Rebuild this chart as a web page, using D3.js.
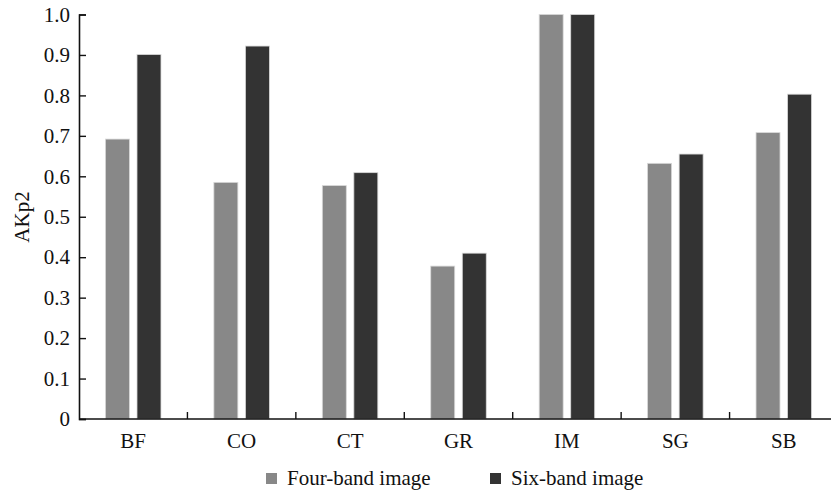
<!DOCTYPE html>
<html>
<head>
<meta charset="utf-8">
<script src="https://cdn.jsdelivr.net/npm/d3@7"></script>
<style>
  body { margin: 0; background: #fff; }
  svg text { font-family: "Liberation Serif", "Times New Roman", serif; fill: #111; }
</style>
</head>
<body>
<div id="chart"></div>
<script>
// data
var categories = ['BF', 'CO', 'CT', 'GR', 'IM', 'SG', 'SB'];
var seriesNames = ['Four-band image', 'Six-band image'];
var fourBand = [0.692, 0.585, 0.577, 0.378, 1.0, 0.632, 0.708];
var sixBand  = [0.901, 0.922, 0.609, 0.410, 1.0, 0.655, 0.803];
var yTicks = [0, 0.1, 0.2, 0.3, 0.4, 0.5, 0.6, 0.7, 0.8, 0.9, 1.0];
var colors = ['#888888', '#333333'];

var width = 831, height = 491;
var mLeft = 79, mRight = 838, mTop = 14.5, mBottom = 419;
var fs = 21;

var svg = d3.select('#chart').append('svg')
  .attr('width', width)
  .attr('height', height);

var x0 = d3.scaleBand().domain(categories).range([mLeft, mRight])
  .paddingInner(0.488).paddingOuter(0.244);
var x1 = d3.scaleBand().domain(seriesNames).range([0, x0.bandwidth()])
  .paddingInner(0.24);
var y = d3.scaleLinear().domain([0, 1]).range([mBottom, mTop]);

var rows = categories.map(function (c, i) {
  return { cat: c, vals: [fourBand[i], sixBand[i]] };
});

// bars
var groups = svg.selectAll('.grp')
  .data(rows).enter()
  .append('g')
  .attr('class', 'grp')
  .attr('transform', function (d) { return 'translate(' + x0(d.cat) + ',0)'; });

groups.selectAll('rect')
  .data(function (d) { return d.vals.map(function (v, j) { return { s: seriesNames[j], v: v, j: j }; }); })
  .enter().append('rect')
  .attr('x', function (d) { return x1(d.s); })
  .attr('y', function (d) { return y(d.v); })
  .attr('width', x1.bandwidth())
  .attr('height', function (d) { return mBottom - y(d.v); })
  .attr('fill', function (d) { return colors[d.j]; })
  .attr('stroke', '#d8d8d8')
  .attr('stroke-width', 0.8);

// y axis
var yAxis = d3.axisLeft(y).tickValues(yTicks)
  .tickSize(-7).tickPadding(9)
  .tickFormat(function (d) { return d === 0 ? '0' : d3.format('.1f')(d); });
var gy = svg.append('g').attr('transform', 'translate(' + mLeft + ',0)').call(yAxis);
gy.select('.domain').attr('stroke', '#111').attr('stroke-width', 1.6);
gy.selectAll('.tick line').attr('stroke', '#111').attr('stroke-width', 1.4);
gy.selectAll('.tick text').attr('font-size', fs).attr('fill', '#111')
  .style('font-family', '"Liberation Serif", serif');

// x axis
var gx = svg.append('g').attr('transform', 'translate(0,' + mBottom + ')');
gx.append('line')
  .attr('x1', mLeft).attr('x2', mRight)
  .attr('stroke', '#111').attr('stroke-width', 1.6);
gx.selectAll('.bnd')
  .data(categories.slice(1)).enter()
  .append('line')
  .attr('class', 'bnd')
  .attr('x1', function (d) { return x0(d) - x0.step() * 0.244; })
  .attr('x2', function (d) { return x0(d) - x0.step() * 0.244; })
  .attr('y1', 0).attr('y2', -7)
  .attr('stroke', '#111').attr('stroke-width', 1.4);
gx.selectAll('.cat')
  .data(categories).enter()
  .append('text')
  .attr('class', 'cat')
  .attr('x', function (d) { return x0(d) + x0.bandwidth() / 2; })
  .attr('y', 29)
  .attr('text-anchor', 'middle')
  .attr('font-size', fs)
  .text(function (d) { return d; });

// y label
svg.append('text')
  .attr('transform', 'translate(29,217) rotate(-90)')
  .attr('text-anchor', 'middle')
  .attr('font-size', fs)
  .text('AKp2');

// legend
var legendX = [266, 490];
var lg = svg.selectAll('.leg')
  .data(seriesNames).enter()
  .append('g')
  .attr('class', 'leg')
  .attr('transform', function (d, i) { return 'translate(' + legendX[i] + ',473)'; });
lg.append('rect')
  .attr('width', 11).attr('height', 11)
  .attr('fill', function (d, i) { return colors[i]; });
lg.append('text')
  .attr('x', 21).attr('y', 12)
  .attr('font-size', fs)
  .text(function (d) { return d; });
</script>
</body>
</html>
